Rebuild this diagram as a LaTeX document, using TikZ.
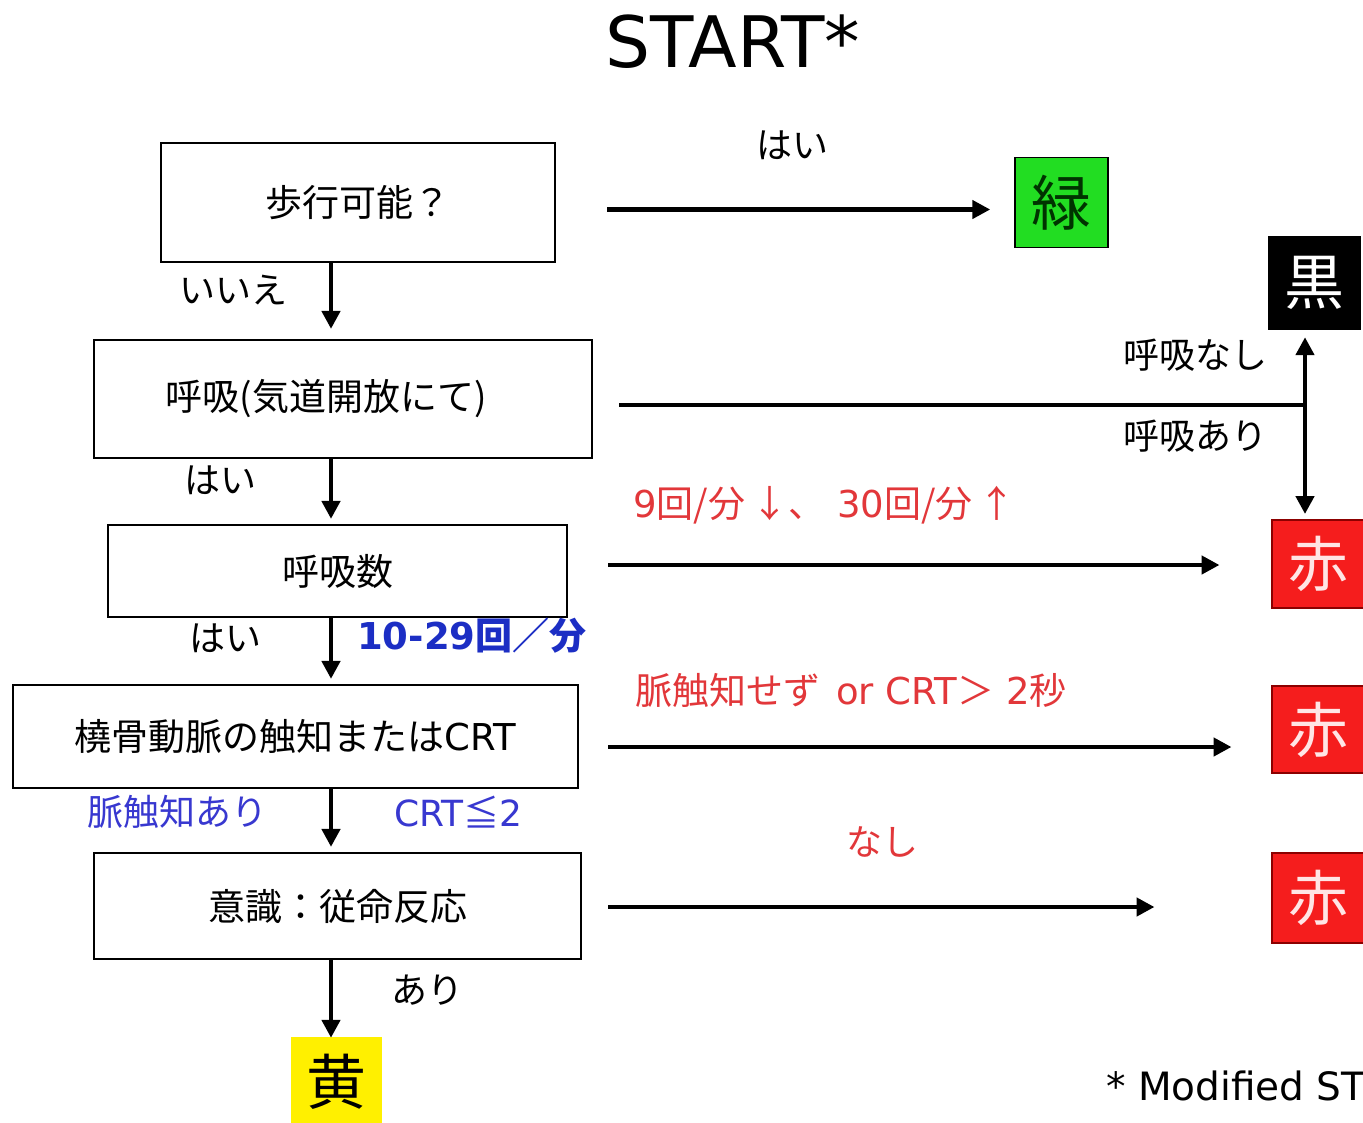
\documentclass[tikz,border=0pt]{standalone}
\usepackage{fontspec}
\setmainfont{Noto Sans CJK JP}
\newfontfamily\latinfont{DejaVu Sans}
\usetikzlibrary{arrows.meta,calc}
\definecolor{txtred}{HTML}{E2373A}
\definecolor{txtblue}{HTML}{3838D0}
\definecolor{boldblue}{HTML}{1C2EC4}
\definecolor{boxred}{HTML}{F51D1D}
\definecolor{boxgreen}{HTML}{22DD22}
\definecolor{boxyellow}{HTML}{FFF000}
\newcommand{\lt}[1]{{\latinfont #1}}
\begin{document}
\begin{tikzpicture}[x=1pt,y=-1pt,
  qbox/.style={draw, line width=2.2pt, inner sep=0pt, font=\fontsize{37}{42}\selectfont},
  tagbox/.style={inner sep=0pt, minimum width=93pt, minimum height=90pt, font=\fontsize{60}{66}\selectfont},
  lbl/.style={inner sep=0pt, font=\fontsize{36}{40}\selectfont},
  arr/.style={line width=4.5pt, -{Triangle[length=18pt,width=18pt]}},
  ln/.style={line width=4.5pt}
]
\useasboundingbox (0,0) rectangle (1363,1122);
\clip (0,0) rectangle (1363,1122);
\fill[white] (0,0) rectangle (1363,1122);

% title and footnote
\node[inner sep=0pt, font=\latinfont\fontsize{71}{75}\selectfont] (title) at (733,42) {START*};
\node[inner sep=0pt, anchor=west, font=\latinfont\fontsize{39}{42}\selectfont] (foot) at (1106,1086) {* Modified ST};

% question boxes
\node[qbox, minimum width=394pt, minimum height=119pt] (walk) at (358,202.5) {歩行可能？};
\node[qbox, minimum width=498pt, minimum height=118pt] (breath) at (343,399) {呼吸(気道開放にて)\hspace*{34pt}};
\node[qbox, minimum width=459pt, minimum height=92pt] (rate) at (337.5,571) {呼吸数};
\node[qbox, minimum width=565pt, minimum height=103pt] (pulse) at (295.5,736.5) {橈骨動脈の触知または\lt{CRT}};
\node[qbox, minimum width=487pt, minimum height=106pt] (cons) at (337.5,906) {意識：従命反応};

% triage tags
\node[tagbox, draw, line width=1.5pt, fill=boxgreen, text=black!80!green] (green) at (1061.5,202.5) {緑};
\node[tagbox, fill=black, text=white, minimum height=94pt] (black) at (1314,283) {黒};
\node[tagbox, draw=red!55!black, line width=2pt, fill=boxred, text=white!90!red, minimum height=88pt] (red1) at (1318,564) {赤};
\node[tagbox, draw=red!55!black, line width=2pt, fill=boxred, text=white!90!red, minimum height=87pt] (red2) at (1318,729.5) {赤};
\node[tagbox, draw=red!55!black, line width=2pt, fill=boxred, text=white!90!red, minimum height=90pt] (red3) at (1318,898) {赤};
\node[tagbox, fill=boxyellow, minimum width=91pt, minimum height=90pt] (yellow) at (336.5,1082) {黄};

% vertical column of arrows
\coordinate (col) at (331,0);
\draw[arr, shorten >=10pt] (walk.south -| col) -- (breath.north -| col);
\draw[arr, shorten >=5pt] (breath.south -| col) -- (rate.north -| col);
\draw[arr, shorten >=5pt] (rate.south -| col) -- (pulse.north -| col);
\draw[arr, shorten >=5pt] (pulse.south -| col) -- (cons.north -| col);
\draw[arr] (cons.south -| col) -- ([yshift=-1pt]yellow.north -| col);

% horizontal arrows
\coordinate (h1) at ($(walk.east)+(51,7)$);
\draw[arr, shorten >=24pt] (h1) -- (h1 -| green.west);

\coordinate (h2) at ($(breath.east)+(26,6)$);
\coordinate (j) at (1305,405);
\draw[ln] (h2) -- (j);
\draw[arr, shorten >=7pt] (j) -- (j |- black.south);
\draw[arr, shorten >=5pt] (j) -- (j |- red1.north);

\coordinate (h3) at ($(rate.east)+(40,-6)$);
\draw[arr, shorten >=51pt] (h3) -- (h3 -| red1.west);

\coordinate (h4) at ($(pulse.east)+(29,10.5)$);
\draw[arr, shorten >=39pt] (h4) -- (h4 -| red2.west);

\coordinate (h5) at ($(cons.east)+(26,1)$);
\draw[arr, shorten >=116pt] (h5) -- (h5 -| red3.west);

% labels
\node[lbl] (l1) at (792,145) {はい};
\node[lbl] (l2) at (233,290) {いいえ};
\node[lbl] (l3) at (220,480) {はい};
\node[lbl] (l4) at (225,638) {はい};
\node[lbl, anchor=west, text=boldblue, font=\fontsize{37}{40}\selectfont\bfseries] (l5) at (357,636) {{\latinfont\bfseries 10-29}回／分};
\node[lbl, text=txtblue] (l6) at (177,812) {脈触知あり};
\node[lbl, anchor=west, text=txtblue] (l7) at (394,812) {\lt{CRT}≦\lt{2}};
\node[lbl] (l8) at (427,990) {あり};
\node[lbl] (l9) at (1195,355) {呼吸なし};
\node[lbl] (l10) at (1195,436) {呼吸あり};
\node[lbl, anchor=west, text=txtred, font=\fontsize{37}{40}\selectfont] (l11) at (633,505) {\lt{9}回/分\hspace{6pt}↓、\hspace{12pt}\lt{30}回/分\hspace{6pt}↑};
\node[lbl, anchor=west, text=txtred, font=\fontsize{37}{40}\selectfont] (l12) at (635,690) {脈触知せず\hspace{16pt}\lt{or CRT}＞\hspace{12pt}\lt{2}秒};
\node[lbl, text=txtred] (l13) at (882,842) {なし};
\end{tikzpicture}
\end{document}
